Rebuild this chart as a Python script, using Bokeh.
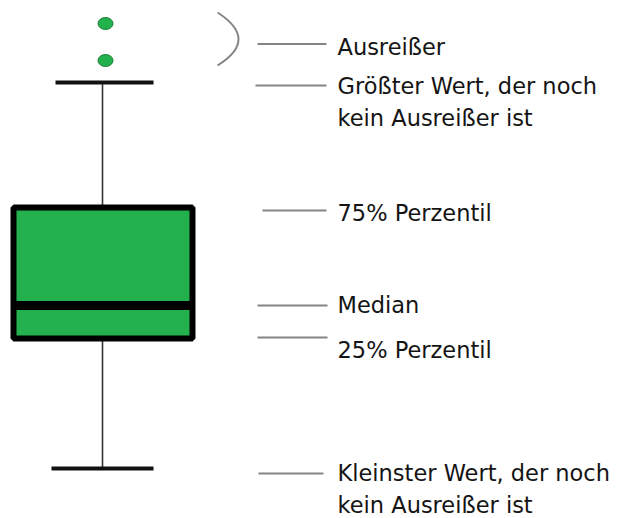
from bokeh.plotting import figure
from bokeh.models import Range1d
from bokeh.core.properties import value
from bokeh.embed import file_html
from bokeh.resources import INLINE

# --- box-plot statistics (value axis, upward) ---
outliers = [49.5, 45.8]
whisker_high = 43.6
q3 = 31.1
median = 21.3
q1 = 18.0
whisker_low = 5.0

# --- annotation texts ---
label_texts = ["Ausreißer",
               "Größter Wert, der noch", "kein Ausreißer ist",
               "75% Perzentil",
               "Median",
               "25% Perzentil",
               "Kleinster Wert, der noch", "kein Ausreißer ist"]

GREEN = "#22B14C"
GRAY = "#858585"
FONT = value("DejaVu Sans")

p = figure(width=625, height=518, output_backend="svg", toolbar_location=None,
           x_range=Range1d(0, 625), y_range=Range1d(0.0, 51.8),
           x_axis_location=None, y_axis_location=None, min_border=0)
p.grid.visible = False
p.outline_line_color = None
p.background_fill_color = "white"
p.border_fill_color = "white"

# layout of the schematic (horizontal, in pixel-like units)
cx = 102
box_left, box_right = 13, 192
cap_hi = (55, 153)
cap_lo = (51, 153)

# whisker
p.segment(x0=[cx, cx], y0=[whisker_high, q1], x1=[cx, cx], y1=[q3, whisker_low],
          line_color="#333333", line_width=1.6)
# caps
p.segment(x0=[cap_hi[0], cap_lo[0]], y0=[whisker_high, whisker_low],
          x1=[cap_hi[1], cap_lo[1]], y1=[whisker_high, whisker_low],
          line_color="#111111", line_width=4)
# box
p.quad(left=[box_left], right=[box_right], top=[q3], bottom=[q1],
       fill_color=GREEN, line_color="#000000", line_width=6)
# median
p.segment(x0=[box_left], y0=[median], x1=[box_right], y1=[median],
          line_color="#000000", line_width=9)
# outliers
p.ellipse(x=[105] * len(outliers), y=outliers, width=15, height=1.2,
          fill_color=GREEN, line_color="#1a7a35", line_width=1)

# brace around the outliers
p.quadratic(x0=[217], y0=[50.6], x1=[217], y1=[45.3], cx=[259], cy=[47.9],
            line_color=GRAY, line_width=2)

# annotation leader lines (y tied to the statistics, small offsets)
line_y = [sum(outliers) / 2 - 0.2, whisker_high - 0.3, q3 - 0.3, median,
          q1 + 0.1, whisker_low - 0.5]
line_x0 = [257, 255, 262, 257, 257, 258]
line_x1 = [326, 326, 326, 327, 327, 323]
p.segment(x0=line_x0, y0=line_y, x1=line_x1, y1=line_y,
          line_color=GRAY, line_width=2.2)

# label baselines
text_y = [47.2, 43.3, 40.1, 30.6, 21.4, 16.9, 4.6, 1.4]
p.text(x=[337] * len(label_texts), y=text_y, text=label_texts,
       text_font=FONT, text_font_size="22.5px", text_color="#141414",
       text_align="left", text_baseline="alphabetic")

open("out.html", "w").write(file_html(p, INLINE))
